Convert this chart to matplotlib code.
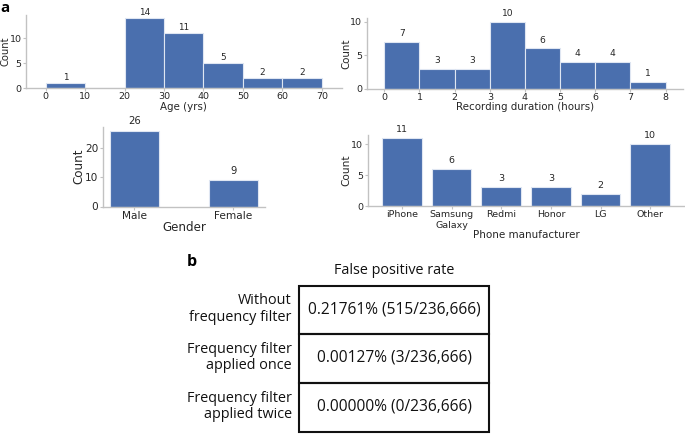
import matplotlib
matplotlib.use("Agg")
import matplotlib.pyplot as plt
from matplotlib.patches import Rectangle

# ---------------- data ----------------
age_edges = [0, 10, 20, 30, 40, 50, 60, 70]
age_counts = [1, 0, 14, 11, 5, 2, 2]
age_ticks = [0, 10, 20, 30, 40, 50, 60, 70]

dur_edges = [0, 1, 2, 3, 4, 5, 6, 7, 8]
dur_counts = [7, 3, 3, 10, 6, 4, 4, 1]
dur_ticks = [0, 1, 2, 3, 4, 5, 6, 7, 8]

gender_cats = ["Male", "Female"]
gender_counts = [26, 9]

phone_cats = ["iPhone", "Samsung\nGalaxy", "Redmi", "Honor", "LG", "Other"]
phone_counts = [11, 6, 3, 3, 2, 10]

table_title = "False positive rate"
table_rows = ["Without\nfrequency filter",
              "Frequency filter\napplied once",
              "Frequency filter\napplied twice"]
table_values = ["0.21761% (515/236,666)",
                "0.00127% (3/236,666)",
                "0.00000% (0/236,666)"]

# ---------------- style ----------------
W, H = 685, 434
BLUE = "#4a6fae"
EDGE = "#dfe6f2"
SPINE = "#c2c2c2"
TXT = "#262626"

fig = plt.figure(figsize=(W / 100, H / 100), dpi=100)


def rect(l, t, r, b):
    return [l / W, 1 - b / H, (r - l) / W, (b - t) / H]


def style(ax, tick_fs):
    for s in ["top", "right"]:
        ax.spines[s].set_visible(False)
    for s in ["left", "bottom"]:
        ax.spines[s].set_color(SPINE)
        ax.spines[s].set_linewidth(1.0)
    ax.tick_params(axis="both", colors=SPINE, labelcolor=TXT,
                   length=2.0, width=0.8, pad=1.2, labelsize=tick_fs)


def place_labels(ax, xoff_px, yoff_px):
    bb = ax.get_position()
    wpx, hpx = bb.width * W, bb.height * H
    ax.xaxis.set_label_coords(0.5, -xoff_px / hpx)
    ax.xaxis.label.set_va("center")
    ax.yaxis.set_label_coords(-yoff_px / wpx, 0.5)
    ax.yaxis.label.set_va("center")


def annotate(ax, xs, ys, fs, off):
    for x, y in zip(xs, ys):
        if y > 0:
            ax.annotate(str(y), (x, y), xytext=(0, off),
                        textcoords="offset pixels", ha="center",
                        va="center", fontsize=fs, color=TXT)


# Age histogram
ax1 = fig.add_axes(rect(26, 15, 341.5, 88))
lefts = age_edges[:-1]
widths = [age_edges[i + 1] - age_edges[i] for i in range(len(lefts))]
ax1.bar(lefts, age_counts, width=widths, align="edge", color=BLUE,
        edgecolor=EDGE, linewidth=0.8)
ax1.set_xlim(-5, 75)
ax1.set_ylim(0, 14.7)
ax1.set_xticks(age_ticks)
ax1.set_yticks([0, 5, 10])
style(ax1, 6.8)
ax1.set_xlabel("Age (yrs)", fontsize=7.4, color=TXT)
ax1.set_ylabel("Count", fontsize=7.2, color=TXT)
place_labels(ax1, 18.7, 20.5)
annotate(ax1, [l + w / 2 for l, w in zip(lefts, widths)], age_counts, 6.4, 6)

# Recording duration histogram
ax2 = fig.add_axes(rect(366.7, 18.3, 683.2, 88.7))
lefts = dur_edges[:-1]
widths = [dur_edges[i + 1] - dur_edges[i] for i in range(len(lefts))]
ax2.bar(lefts, dur_counts, width=widths, align="edge", color=BLUE,
        edgecolor=EDGE, linewidth=0.8)
ax2.set_xlim(-0.5, 8.5)
ax2.set_ylim(0, 10.5)
ax2.set_xticks(dur_ticks)
ax2.set_yticks([0, 5, 10])
style(ax2, 6.8)
ax2.set_xlabel("Recording duration (hours)", fontsize=7.4, color=TXT)
ax2.set_ylabel("Count", fontsize=7.4, color=TXT)
place_labels(ax2, 18.6, 20.4)
annotate(ax2, [l + w / 2 for l, w in zip(lefts, widths)], dur_counts, 6.6, 8)

# Gender bar chart
ax3 = fig.add_axes(rect(102.7, 126.7, 265, 206.5))
gx = list(range(len(gender_cats)))
ax3.bar(gx, gender_counts, width=0.5, color=BLUE, edgecolor=EDGE, linewidth=0.8)
ax3.set_xlim(-0.32, 1.32)
ax3.set_ylim(0, 27.3)
ax3.set_xticks(gx)
ax3.set_xticklabels(gender_cats)
ax3.set_yticks([0, 10, 20])
style(ax3, 7.6)
ax3.set_xlabel("Gender", fontsize=8.6, color=TXT)
ax3.set_ylabel("Count", fontsize=8.6, color=TXT)
place_labels(ax3, 20.8, 23.5)
annotate(ax3, gx, gender_counts, 7.2, 9.5)

# Phone manufacturer bar chart
ax4 = fig.add_axes(rect(367.7, 134.7, 685, 206))
px = list(range(len(phone_cats)))
ax4.bar(px, phone_counts, width=0.8, color=BLUE, edgecolor=EDGE, linewidth=0.8)
ax4.set_xlim(-0.69, 5.7)
ax4.set_ylim(0, 11.55)
ax4.set_xticks(px)
ax4.set_xticklabels(phone_cats, linespacing=1.2)
ax4.set_yticks([0, 5, 10])
style(ax4, 6.8)
ax4.set_xlabel("Phone manufacturer", fontsize=7.5, color=TXT)
ax4.set_ylabel("Count", fontsize=7.6, color=TXT)
place_labels(ax4, 28.5, 21)
annotate(ax4, px, phone_counts, 6.8, 8.5)

# ---------------- panel b: table ----------------
axt = fig.add_axes([0, 0, 1, 1], zorder=-1)
axt.set_xlim(0, W)
axt.set_ylim(H, 0)
axt.axis("off")

TF = "Open Sans"
row_edges = [285.7, 334.3, 383.0, 431.7]
box_l, box_r = 299.3, 489.0
for i in range(len(table_rows)):
    top, bot = row_edges[i], row_edges[i + 1]
    axt.add_patch(Rectangle((box_l, top), box_r - box_l, bot - top,
                            fill=False, edgecolor="#111111", linewidth=1.5))
    yc = (top + bot) / 2
    axt.text((box_l + box_r) / 2, yc - 1, table_values[i], ha="center",
             va="center", fontsize=11.2, family=TF, color="#111111")
    axt.text(291.7, yc - 1, table_rows[i], ha="right", va="center",
             multialignment="right", fontsize=10.4, family=TF,
             color="#111111", linespacing=1.12)
axt.text(394, 270, table_title, ha="center", va="center", fontsize=10.4,
         family=TF, color="#111111")

axt.text(192, 262.5, "b", ha="center", va="center", fontsize=11.5,
         fontweight="bold", family=TF, color="black")
axt.text(5.5, 1, "a", ha="center", va="top", fontsize=11,
         fontweight="bold", family=TF, color="black")

fig.savefig("out.png", dpi=100)
